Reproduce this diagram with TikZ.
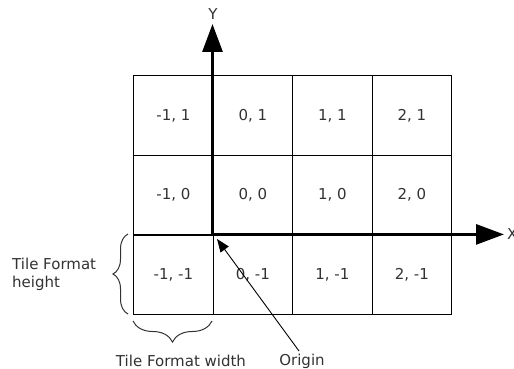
\documentclass[tikz,border=0pt]{standalone}
\usepackage{fontspec}
\setmainfont{DejaVu Sans}
\usetikzlibrary{arrows.meta,decorations.pathreplacing}
\definecolor{txt}{RGB}{50,50,50}
\begin{document}
\begin{tikzpicture}[x=1pt,y=-1pt,
  cell/.style={draw=black,line width=1.3pt,minimum width=79.5pt,minimum height=79.7pt,
    inner sep=0pt,anchor=north west,font=\fontsize{15}{17}\selectfont,text=txt},
  lbl/.style={font=\fontsize{15}{18}\selectfont,text=txt,inner sep=0pt},
  axis/.style={line width=3pt,-{Triangle[length=28pt,width=20pt]}},
  bracestyle/.style={draw=txt,line width=1pt,decorate,decoration={brace,amplitude=15pt}}]
\useasboundingbox (0,0) rectangle (514,369);
% grid cells
\foreach \r/\yl in {0/1,1/0,2/-1}{
  \foreach \c/\xl in {0/-1,1/0,2/1,3/2}{
    \node[cell] (c\c\r) at ({133+79.5*\c},{75+79.7*\r}) {\xl, \yl};
  }
}
% axes
\coordinate (O) at (212.5,234.4);
\coordinate (ytip) at (212.5,24);
\coordinate (xtip) at (504,234.4);
\draw[axis] (O) -- (ytip);
\draw[axis] (O) -- (xtip);
\node[lbl,anchor=center] (ylab) at (213,14) {Y};
\node[lbl,anchor=west] (xlab) at (507,234) {X};
% braces
\coordinate (hb1) at (128,314);
\coordinate (hb2) at (128,234);
\draw[bracestyle] (hb1) -- (hb2);
\node[lbl,anchor=west,align=left] (hlab) at (12,274) {Tile Format\\height};
\coordinate (wb1) at (212,321);
\coordinate (wb2) at (133,321);
\draw[bracestyle,decoration={brace,amplitude=21pt}] (wb1) -- (wb2);
\node[lbl,anchor=center] (wlab) at (181,361) {Tile Format width};
% origin
\node[lbl,anchor=center] (olab) at (302,361) {Origin};
\coordinate (otip) at (217,239);
\draw[line width=0.9pt,-{Triangle[length=13pt,width=10pt]}] (299,351) -- (otip);
\end{tikzpicture}
\end{document}
